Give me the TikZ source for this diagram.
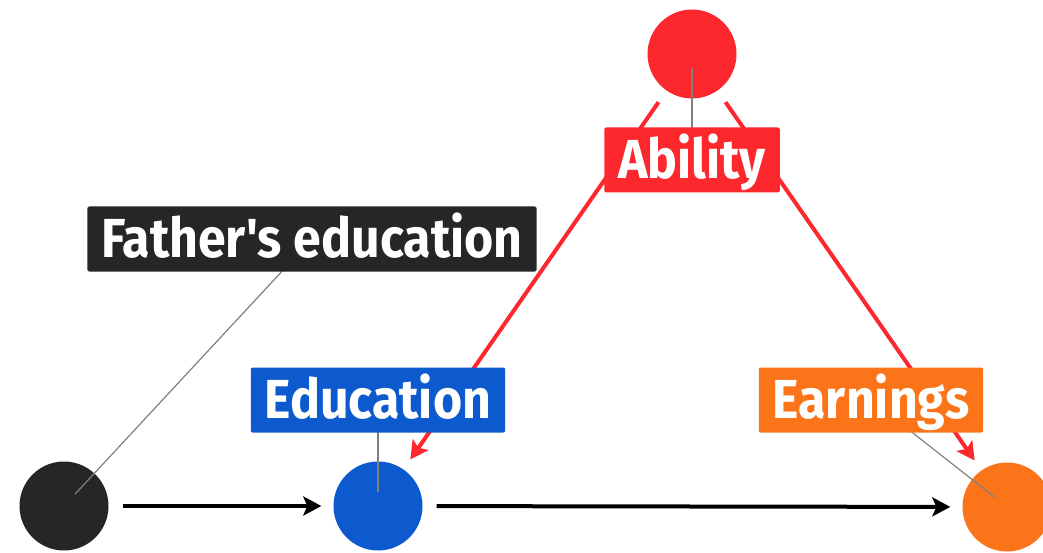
\documentclass[tikz,border=0pt]{standalone}
\usepackage{fontspec}
\setmainfont{Fira Sans}[Ligatures=TeXOff, FakeStretch=0.91]
\usepackage{xcolor}
\usepackage{tikz}
\usetikzlibrary{arrows.meta, calc}
\definecolor{fathercol}{RGB}{38,38,38}
\definecolor{abilcol}{RGB}{252,40,46}
\definecolor{educol}{RGB}{12,90,205}
\definecolor{earncol}{RGB}{252,116,26}
\tikzstyle{dot} = [circle, minimum size=89pt, inner sep=0pt]
\tikzstyle{tag} = [rectangle, rounded corners=2pt, text=white, font=\bfseries\fontsize{55}{60}\selectfont, minimum height=65pt, inner xsep=14pt, inner ysep=0pt, text height=51pt, text depth=14pt]
\tikzstyle{arrow} = [line width=4pt, -{Stealth[length=18pt, width=19pt, inset=4pt]}, shorten <=14pt, shorten >=12pt]
\tikzstyle{leader} = [gray, line width=1.2pt]

\begin{document}
\begin{tikzpicture}[x=1pt, y=-1pt]
			\useasboundingbox (0,0) rectangle (1043,553);
			\node (father) [dot, fill=fathercol] at (64,506) {};
			\node (edu) [dot, fill=educol] at (378,506) {};
			\node (earn) [dot, fill=earncol] at (1007,507) {};
			\node (abil) [dot, fill=abilcol] at (692,54) {};
			\coordinate (fatherpos) at (312,239);
			\coordinate (abilpos) at (692,160);
			\coordinate (edupos) at (378,400);
			\coordinate (earnpos) at (871,400);
			\draw [arrow] (father) -- (edu);
			\draw [arrow] (edu) -- (earn);
			\draw [arrow, abilcol] (abil) -- (edu);
			\draw [arrow, abilcol] (abil) -- (earn);
			\draw [leader] (fatherpos) -- ($(father)!16pt!(fatherpos)$);
			\draw [leader] (abilpos) -- ($(abil)!14pt!(abilpos)$);
			\draw [leader] (edupos) -- ($(edu)!14pt!(edupos)$);
			\draw [leader] (earnpos) -- ($(earn)!16pt!(earnpos)$);
			\node (fatherlbl) [tag, fill=fathercol] at (fatherpos) {Father's education};
			\node (abillbl) [tag, fill=abilcol] at (abilpos) {Ability};
			\node (edulbl) [tag, fill=educol] at (edupos) {Education};
			\node (earnlbl) [tag, fill=earncol] at (earnpos) {Earnings};
		\end{tikzpicture}
\end{document}
